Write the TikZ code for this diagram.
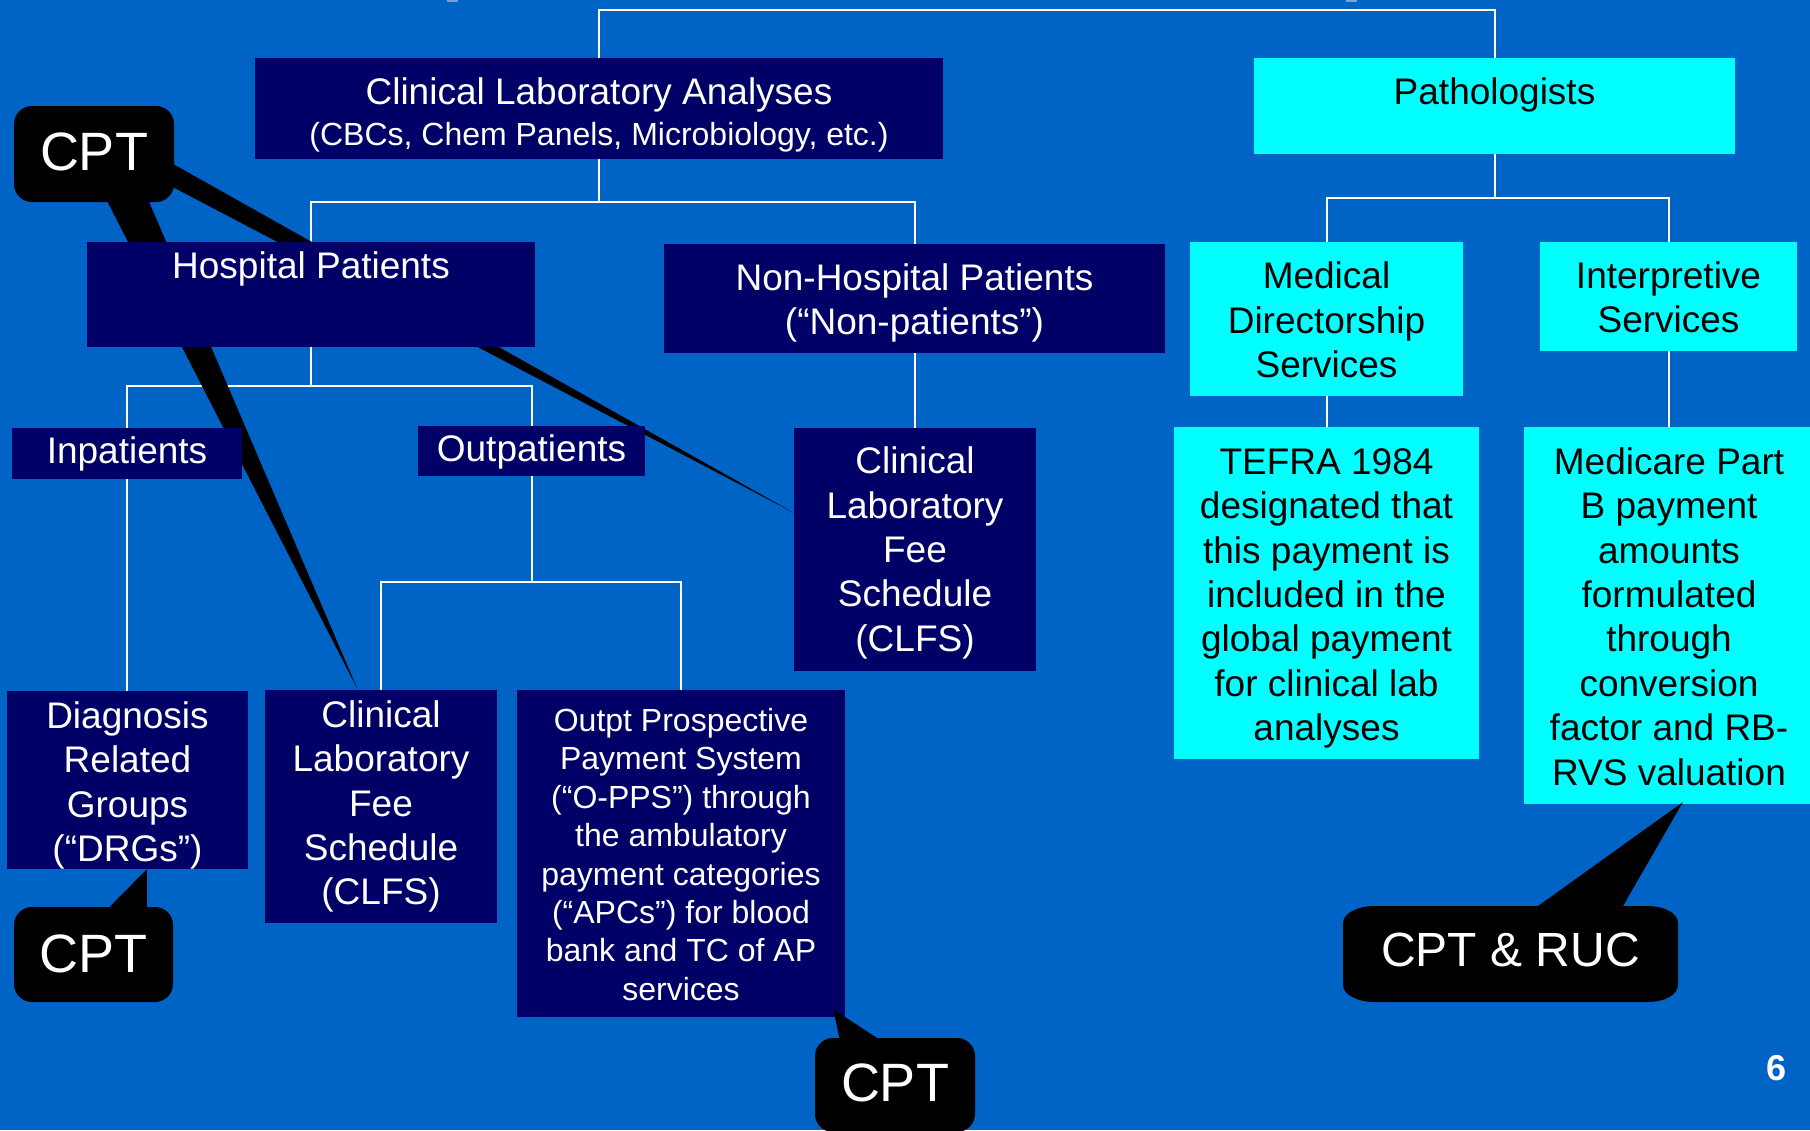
\documentclass[tikz,border=0pt]{standalone}
\usepackage{fontspec}
\setmainfont{Liberation Sans}
\usetikzlibrary{calc}
\definecolor{bgblue}{RGB}{0,99,198}
\definecolor{navyc}{RGB}{0,0,102}
\definecolor{cyanc}{RGB}{0,255,255}
\definecolor{markc}{RGB}{120,160,220}
\pgfdeclarelayer{bglayer}
\pgfdeclarelayer{linelayer}
\pgfsetlayers{bglayer,linelayer,main}
\begin{document}
\begin{tikzpicture}[x=1pt,y=-1pt,
  f37/.style={font=\fontsize{37}{44.4}\selectfont},
  f32/.style={font=\fontsize{32}{38.4}\selectfont},
  navybox/.style={rectangle, fill=navyc, inner sep=0pt},
  cyanbox/.style={rectangle, fill=cyanc, inner sep=0pt},
  wtxt/.style={text=white, inner sep=0pt, align=center, f37},
  btxt/.style={text=black, inner sep=0pt, align=center, f37},
  conn/.style={draw=white, line width=2pt},
  wedge/.style={fill=black},
  callout/.style={rectangle, fill=black, text=white, rounded corners=18pt, inner sep=0pt, font=\fontsize{54}{60}\selectfont},
]
\useasboundingbox (0,0) rectangle (1810,1130);
\begin{pgfonlayer}{bglayer}
  \fill[bgblue] (0,0) rectangle (1810,1130);
  \fill[markc] (447,0) rectangle (458,1.5);
  \fill[markc] (1346,0) rectangle (1357,1.5);
\end{pgfonlayer}

% boxes
\node[navybox, minimum width=688pt, minimum height=101pt] (cla) at (599,108.5) {};
\node[wtxt, anchor=base] (claT1) at (599,104) {Clinical Laboratory Analyses};
\node[wtxt, f32, anchor=base] (claT2) at (599,145) {(CBCs, Chem Panels, Microbiology, etc.)};

\node[cyanbox, minimum width=481pt, minimum height=96pt] (path) at (1494.5,106) {};
\node[btxt, anchor=base] (pathT) at (1494.5,104) {Pathologists};

\node[navybox, minimum width=448pt, minimum height=105pt] (hosp) at (311,294.5) {};
\node[wtxt, anchor=base] (hospT) at (311,278) {Hospital Patients};

\node[navybox, minimum width=501pt, minimum height=109pt] (nonh) at (914.5,298.5) {};
\node[wtxt] (nonhT) at ($(nonh)+(0,4.5)$) {Non-Hospital Patients\\(“Non-patients”)};
\node[cyanbox, minimum width=273pt, minimum height=154pt] (med) at (1326.5,319) {};
\node[btxt] (medT) at ($(med)+(0,1)$) {Medical\\Directorship\\Services};
\node[cyanbox, minimum width=257pt, minimum height=109pt] (interp) at (1668.5,296.5) {};
\node[btxt] (interpT) at ($(interp)+(0,1)$) {Interpretive\\Services};
\node[navybox, minimum width=230pt, minimum height=51pt] (inp) at (127,453.5) {};
\node[wtxt] (inpT) at (inp) {Inpatients};
\node[navybox, minimum width=227pt, minimum height=50pt] (outp) at (531.5,451) {};
\node[wtxt] (outpT) at ($(outp)+(0,1)$) {Outpatients};
\node[navybox, minimum width=242pt, minimum height=243pt] (clfsR) at (915,549.5) {};
\node[wtxt] (clfsRT) at ($(clfsR)+(0,3.5)$) {Clinical\\Laboratory\\Fee\\Schedule\\(CLFS)};
\node[cyanbox, minimum width=305pt, minimum height=332pt] (tefra) at (1326.5,593) {};
\node[btxt] (tefraT) at ($(tefra)+(0,5.5)$) {TEFRA 1984\\designated that\\this payment is\\included in the\\global payment\\for clinical lab\\analyses};
\node[cyanbox, minimum width=290pt, minimum height=377pt] (medicare) at (1669,615.5) {};
\node[btxt] (medicareT) at ($(medicare)+(0,1)$) {Medicare Part\\B payment\\amounts\\formulated\\through\\conversion\\factor and RB-\\RVS valuation};
\node[navybox, minimum width=241pt, minimum height=178pt] (drg) at (127.5,780) {};
\node[wtxt] (drgT) at ($(drg)+(0,5.5)$) {Diagnosis\\Related\\Groups\\(“DRGs”)};
\node[navybox, minimum width=232pt, minimum height=233pt] (clfsL) at (381,806.5) {};
\node[wtxt] (clfsLT) at (clfsL) {Clinical\\Laboratory\\Fee\\Schedule\\(CLFS)};
\node[navybox, minimum width=328pt, minimum height=327pt] (opps) at (681,853.5) {};
\node[wtxt, f32] (oppsT) at ($(opps)+(0,1)$) {Outpt Prospective\\Payment System\\(“O-PPS”) through\\the ambulatory\\payment categories\\(“APCs”) for blood\\bank and TC of AP\\services};

% callouts
\node[callout, minimum width=160pt, minimum height=96pt] (cpt1) at (94,154) {};
\node[text=white, inner sep=0pt, font=\fontsize{54}{60}\selectfont] (cpt1T) at ($(cpt1)+(0,-2)$) {CPT};
\node[callout, minimum width=159pt, minimum height=95pt] (cpt2) at (93.5,954.5) {};
\node[text=white, inner sep=0pt, font=\fontsize{54}{60}\selectfont] (cpt2T) at ($(cpt2)+(0,-1)$) {CPT};
\node[callout, minimum width=160pt, minimum height=94pt] (cpt3) at (895,1085) {};
\node[text=white, inner sep=0pt, font=\fontsize{54}{60}\selectfont] (cpt3T) at ($(cpt3)+(0,-2)$) {CPT};
\fill[black] ($(cpt2.north west)+(94,2)$) -- ($(drg.south west)+(140,0)$) -- ($(cpt2.north west)+(133,2)$) -- cycle;
\fill[black] ($(cpt3.north west)+(25,2)$) -- ($(opps.south east)+(-12,-8)$) -- ($(cpt3.north west)+(65,2)$) -- cycle;

\coordinate (rtip) at ($(medicare.south west)+(159,-2)$);
\fill[black] (1343,923) .. controls (1343,913) and (1359,906) .. (1373,906)
  -- (1538,906) -- (rtip) -- (1623,906) -- (1648,906)
  .. controls (1664,906) and (1678,913) .. (1678,923)
  -- (1678,985)
  .. controls (1678,995) and (1664,1002) .. (1648,1002)
  -- (1373,1002)
  .. controls (1359,1002) and (1343,995) .. (1343,985) -- cycle;
\node[text=white, font=\fontsize{48}{54}\selectfont, inner sep=0pt] (cptruc) at (1510.5,950) {CPT \& RUC};

\node[text=white, font=\bfseries\fontsize{36}{40}\selectfont, inner sep=0pt] (pnum) at (1776,1068) {6};

\begin{pgfonlayer}{linelayer}
  \draw[conn] (cla.north) -- (cla.north |- 0,10) -| (path.north);
  \draw[conn] (cla.south) -- (cla.south |- 0,202) coordinate (j1);
  \draw[conn] (hosp.north) |- (j1) -| (nonh.north);
  \draw[conn] (path.south) -- (path.south |- 0,198) coordinate (j2);
  \draw[conn] (med.north) |- (j2) -| (interp.north);
  \draw[conn] (hosp.south) -- (hosp.south |- 0,386) coordinate (j3);
  \draw[conn] (inp.north) |- (j3) -| (outp.north);
  \draw[conn] (nonh.south) -- (nonh.south |- clfsR.north);
  \draw[conn] (inp.south) -- (inp.south |- drg.north);
  \draw[conn] (outp.south) -- (outp.south |- 0,582) coordinate (j4);
  \draw[conn] (clfsL.north) |- (j4) -| (opps.north);
  \draw[conn] (med.south) -- (med.south |- tefra.north);
  \draw[conn] (interp.south) -- (interp.south |- medicare.north);
  % long callout tails from the top CPT box
  \fill[wedge] ($(cpt1.north west)+(86,17)$) -- ($(clfsR.north west)+(0,85)$) -- ($(cpt1.north west)+(86,43)$) -- cycle;
  \fill[wedge] ($(cpt1.north west)+(67,44)$) -- ($(clfsL.north west)+(93,0)$) -- ($(cpt1.north west)+(113,44)$) -- cycle;
\end{pgfonlayer}
\end{tikzpicture}
\end{document}
